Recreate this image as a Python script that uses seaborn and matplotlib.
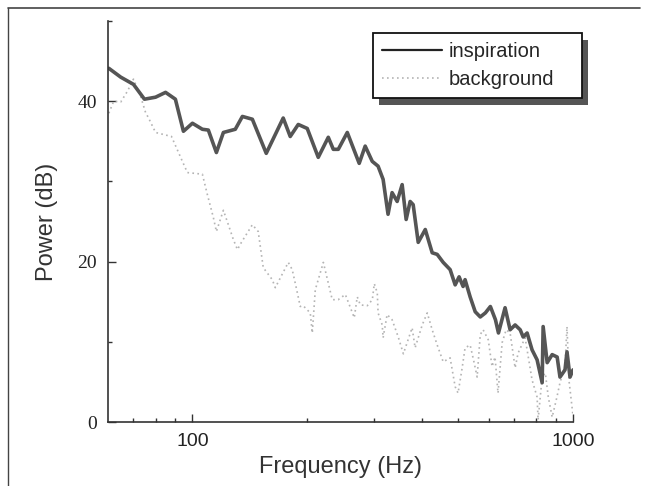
import numpy as np
import pandas as pd
import matplotlib
matplotlib.use("Agg")
import matplotlib.pyplot as plt
from matplotlib.lines import Line2D
from matplotlib.patches import Rectangle
from matplotlib.ticker import FixedLocator, NullFormatter, FuncFormatter
import seaborn as sns

# espectro de la inspiración
freq_insp = [60.3, 64.8, 70.0, 74.8, 80.0, 85.0, 90.2, 94.7, 100, 106.2, 110.1, 115.6,
             120.6, 129.6, 135.3, 143.7, 156.3, 173.2, 180.7, 189.7, 200.3, 214.1,
             227.5, 234.5, 241.7, 255.2, 274.3, 284.4, 296.8, 307.5, 317.0, 326.6,
             334.7, 345.1, 355.7, 364.4, 373.3, 380.2, 392.0, 409.1, 426.6, 439.7,
             456.0, 475.5, 490.2, 502.0, 514.3, 520.5, 536.7, 553.4, 570.6, 588.4,
             606.6, 625.5, 637.0, 663.0, 683.5, 704.6, 726.5, 739.7, 757.6, 780.6,
             804.8, 829.7, 834.7, 855.3, 881.6, 908.6, 924.3, 952.8, 964.3, 982.1, 1000]
power_insp = [44.1, 43.0, 42.1, 40.25, 40.5, 41.1, 40.25, 36.25, 37.25, 36.5, 36.4, 33.6,
              36.1, 36.5, 38.1, 37.75, 33.5, 37.9, 35.6, 37.1, 36.6, 33.0,
              35.5, 34.0, 34.0, 36.1, 32.25, 34.4, 32.5, 31.9, 30.25, 25.9,
              28.6, 27.5, 29.6, 25.25, 27.5, 27.1, 22.4, 24.0, 21.1, 20.9,
              19.9, 19.0, 17.1, 18.1, 16.9, 17.75, 15.6, 13.75, 13.1, 13.6,
              14.4, 12.75, 11.1, 14.25, 11.5, 12.1, 11.5, 10.6, 11.1, 9.0,
              7.75, 4.9, 11.9, 7.4, 8.4, 8.1, 5.6, 6.5, 8.75, 5.6, 6.5]

# espectro del ruido de fondo
freq_bg = [60.3, 62.1, 64.8, 67.5, 70.0, 73.1, 75.3, 76.7, 80.0, 88.1, 94.1, 97.0,
           106.2, 109.4, 113.5, 115.6, 120.6, 125.0, 128.1, 131.3, 134.5, 143.7,
           148.9, 153.5, 162.1, 165.1, 178.6, 182.9, 187.4, 192.0, 195.4, 204.0,
           206.5, 210.3, 220.8, 229.0, 233.0, 241.5, 252.2, 260.1, 266.2, 271.1,
           276.1, 288.0, 297.0, 300.5, 306.0, 307.5, 315.3, 317.0, 324.8, 334.7,
           347.4, 358.3, 377.8, 384.7, 401.6, 414.0, 426.6, 439.7, 456.0, 475.5,
           490.2, 498.8, 511.4, 520.5, 536.7, 549.8, 559.9, 570.6, 580.6, 598.9,
           612.8, 623.9, 635.3, 651.4, 667.2, 683.5, 704.6, 717.4, 748.5, 780.6,
           804.8, 809.6, 829.7, 845.7, 861.3, 881.6, 907.2, 924.3, 952.8, 964.3,
           977.0, 1000]
power_bg = [38.5, 40.0, 39.9, 41.25, 42.75, 40.6, 38.6, 37.9, 36.1, 35.6, 32.5, 31.1,
            30.9, 28.4, 25.5, 23.75, 26.4, 24.25, 22.75, 21.5, 22.4, 24.6,
            23.75, 19.25, 17.75, 16.75, 19.9, 19.0, 16.75, 14.4, 14.5, 13.6,
            11.1, 16.5, 19.9, 16.75, 15.25, 15.25, 15.9, 14.25, 13.0, 15.6,
            14.6, 14.5, 15.25, 17.25, 16.1, 13.6, 12.1, 10.5, 13.4, 12.75,
            10.6, 8.5, 11.75, 9.25, 12.1, 13.6, 11.5, 9.6, 7.5, 8.0,
            4.4, 3.6, 6.75, 9.25, 9.6, 7.4, 5.6, 10.9, 11.5, 10.25,
            6.9, 8.1, 3.6, 9.9, 11.5, 11.1, 6.75, 8.6, 10.5, 5.25,
            3.1, 0.25, 5.6, 6.1, 3.1, 0.6, 3.1, 4.9, 7.0, 11.9,
            5.0, 0.8]

x_labels = {100: '100', 1000: '1000'}
y_major = [0, 20, 40]
y_minor = [10, 30, 50]

df_insp = pd.DataFrame({'freq': freq_insp, 'power': power_insp})
df_bg = pd.DataFrame({'freq': freq_bg, 'power': power_bg})

sns.set_style("ticks")
plt.rcParams['font.family'] = ['Liberation Sans', 'DejaVu Sans']

fig = plt.figure(figsize=(6.46, 4.86), dpi=100)
ax = fig.add_axes([108 / 646, 1 - 422 / 486, (573 - 108) / 646, (422 - 21) / 486])

sns.lineplot(data=df_bg, x='freq', y='power', ax=ax, color='#b4b4b4',
             linestyle=(0, (1, 2)), linewidth=1.2)
sns.lineplot(data=df_insp, x='freq', y='power', ax=ax, color='#555555',
             linewidth=2.6)

ax.set_xscale('log')
ax.set_xlim(60, 1000)
ax.set_ylim(0, 50)

ax.xaxis.set_major_locator(FixedLocator([100, 1000]))
ax.xaxis.set_major_formatter(FuncFormatter(lambda v, p: x_labels.get(int(round(v)), '')))
ax.xaxis.set_minor_locator(FixedLocator([70, 80, 90, 200, 300, 400, 500, 600, 700, 800, 900]))
ax.xaxis.set_minor_formatter(NullFormatter())
ax.yaxis.set_major_locator(FixedLocator(y_major))
ax.yaxis.set_minor_locator(FixedLocator(y_minor))

ax.tick_params(which='both', direction='in', color='#333333', width=1)
ax.tick_params(which='major', length=6)
ax.tick_params(which='minor', length=3)
ax.tick_params(axis='x', labelsize=14, pad=8, labelcolor='#222222')
ax.tick_params(axis='y', labelsize=14, pad=8, labelcolor='#222222')
for lab in ax.get_yticklabels():
    lab.set_family('Liberation Serif')

for s in ['top', 'right']:
    ax.spines[s].set_visible(False)
for s in ['left', 'bottom']:
    ax.spines[s].set_color('#333333')
    ax.spines[s].set_linewidth(1.2)

ax.set_xlabel('Frequency (Hz)', fontsize=17, color='#333333', labelpad=4)
ax.set_ylabel('Power (dB)', fontsize=17, color='#333333', labelpad=14)

handles = [Line2D([], [], color='#222222', linewidth=1.6),
           Line2D([], [], color='#b4b4b4', linestyle=(0, (1, 2)), linewidth=1.2)]
leg = ax.legend(handles, ['inspiration', 'background'], loc='upper left',
                bbox_to_anchor=(373 / 646, 1 - 33 / 486, (582 - 373) / 646, 0),
                bbox_transform=fig.transFigure, fontsize=14.5, frameon=True,
                fancybox=False, handlelength=3.0, handletextpad=0.3,
                labelspacing=0.45, borderpad=0.45, borderaxespad=0, mode='expand')
leg.get_frame().set_edgecolor('#111111')
leg.get_frame().set_linewidth(1.3)
leg.get_frame().set_facecolor('white')
leg.get_frame().set_alpha(1)
leg.set_zorder(6)

# sombra del cuadro de leyenda
fig.canvas.draw()
bb = leg.get_window_extent()
shadow = Rectangle((bb.x0 + 6, bb.y0 - 7), bb.width, bb.height, transform=None,
                   facecolor='#555555', edgecolor='none', zorder=5, clip_on=False)
ax.add_artist(shadow)

# marco de la figura escaneada
fig.add_artist(Line2D([8 / 646, 640 / 646], [1 - 8 / 486, 1 - 8 / 486], color='#444444', linewidth=1.2))
fig.add_artist(Line2D([8 / 646, 8 / 646], [0, 1 - 8 / 486], color='#444444', linewidth=1.0))

fig.savefig('out.png', dpi=100)
